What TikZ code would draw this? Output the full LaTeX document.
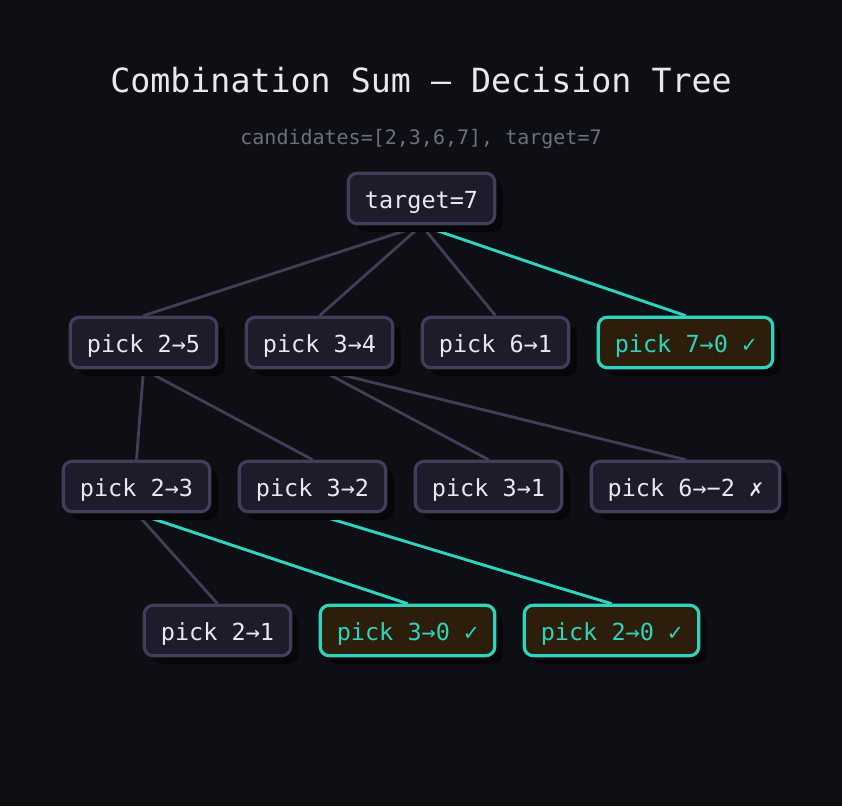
\documentclass[tikz,border=0pt]{standalone}
\usepackage{fontspec}
\setmonofont{DejaVu Sans Mono}
\usetikzlibrary{shadows}
\definecolor{bgc}{HTML}{0E0F14}
\definecolor{nodefill}{HTML}{1D1C2B}
\definecolor{nodeborder}{HTML}{403E58}
\definecolor{txt}{HTML}{E8E8EE}
\definecolor{teal}{HTML}{2DD4BF}
\definecolor{okfill}{HTML}{2D1E0C}
\definecolor{shadowc}{HTML}{07070A}
\definecolor{subc}{HTML}{6B7080}
\pgfdeclarelayer{bg}
\pgfdeclarelayer{edges}
\pgfsetlayers{bg,edges,main}
\tikzset{
  box/.style={draw=nodeborder, line width=3.2pt, fill=nodefill, rounded corners=9pt,
    minimum height=50.5pt, text=txt, font=\ttfamily\fontsize{23.5}{28}\selectfont,
    inner sep=0pt, text height=20pt, text depth=0pt,
    drop shadow={shadow xshift=8pt, shadow yshift=-8pt, fill=shadowc, opacity=1}},
  okbox/.style={box, draw=teal, fill=okfill, text=teal},
  edge/.style={draw=nodeborder, line width=2.8pt},
  okedge/.style={draw=teal, line width=2.9pt},
}
\begin{document}
\begin{tikzpicture}[x=1pt,y=-1pt]
\begin{pgfonlayer}{bg}
\fill[bgc] (0,0) rectangle (842,806);
\end{pgfonlayer}
\useasboundingbox (0,0) rectangle (842,806);
\node[text=txt, font=\ttfamily\fontsize{33.3}{40}\selectfont] (title) at (421,80) {Combination Sum — Decision Tree};
\node[text=subc, font=\ttfamily\fontsize{20}{24}\selectfont] (sub) at (421,139) {candidates=[2,3,6,7], target=7};

\node[box, minimum width=146.5pt] (root) at (421.5,198.5) {target=7};

\node[box, minimum width=146.5pt] (a1) at (143.5,342.5) {pick 2→5};
\node[box, minimum width=146.5pt] (a2) at (319.5,342.5) {pick 3→4};
\node[box, minimum width=146.5pt] (a3) at (495.5,342.5) {pick 6→1};
\node[okbox, minimum width=174.5pt] (a4) at (685.5,342.5) {pick 7→0 ✓};

\node[box, minimum width=146.5pt] (b1) at (136.5,486.5) {pick 2→3};
\node[box, minimum width=146.5pt] (b2) at (312.5,486.5) {pick 3→2};
\node[box, minimum width=146.5pt] (b3) at (488.5,486.5) {pick 3→1};
\node[box, minimum width=188.5pt] (b4) at (685.5,486.5) {pick 6→−2 ✗};

\node[box, minimum width=146.5pt] (c1) at (217.5,630.5) {pick 2→1};
\node[okbox, minimum width=174.5pt] (c2) at (407.5,630.5) {pick 3→0 ✓};
\node[okbox, minimum width=174.5pt] (c3) at (611.5,630.5) {pick 2→0 ✓};

\begin{pgfonlayer}{edges}
\draw[edge] (root.south) -- (a1.north);
\draw[edge] (root.south) -- (a2.north);
\draw[edge] (root.south) -- (a3.north);
\draw[okedge] (root.south) -- (a4.north);
\draw[edge] (a1.south) -- (b1.north);
\draw[edge] (a1.south) -- (b2.north);
\draw[edge] (a2.south) -- (b3.north);
\draw[edge] (a2.south) -- (b4.north);
\draw[edge] (b1.south) -- (c1.north);
\draw[okedge] (b1.south) -- (c2.north);
\draw[okedge] (b2.south) -- (c3.north);
\end{pgfonlayer}
\end{tikzpicture}
\end{document}
